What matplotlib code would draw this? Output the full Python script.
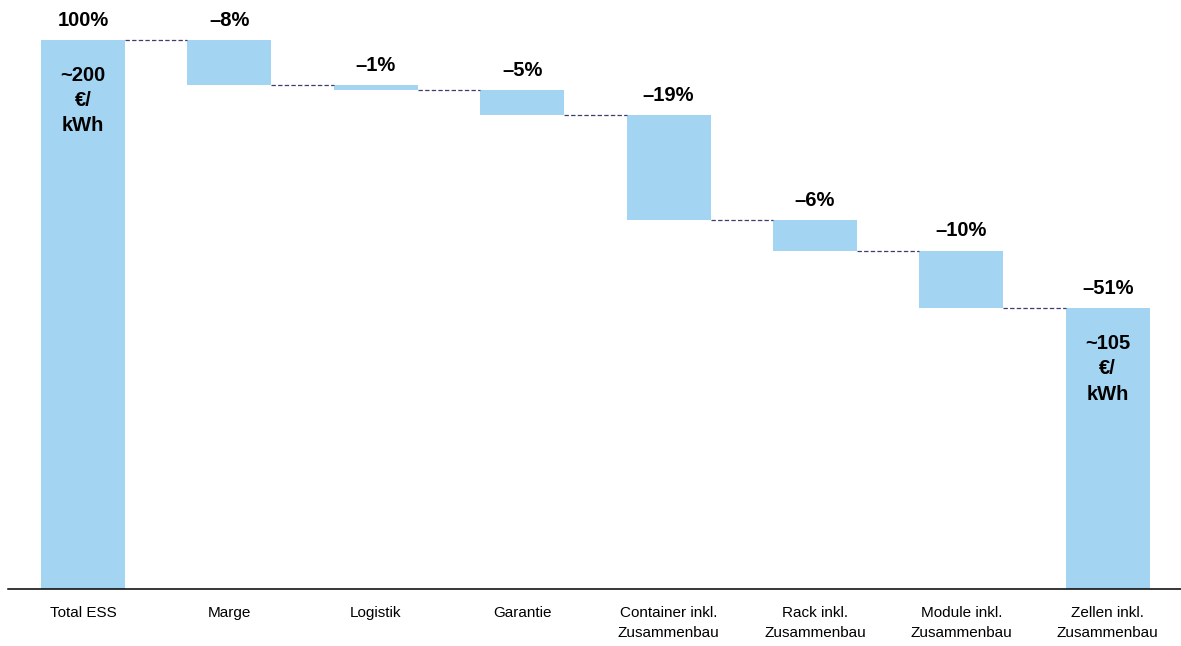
import matplotlib.pyplot as plt

categories = ['Total ESS', 'Marge', 'Logistik', 'Garantie',
              'Container inkl.\nZusammenbau', 'Rack inkl.\nZusammenbau',
              'Module inkl.\nZusammenbau', 'Zellen inkl.\nZusammenbau']
# 100 = total, negative = Abzug, last = remaining total
values = [100, -8.2, -0.9, -4.6, -19.1, -5.6, -10.5, 51.1]
labels = ['100%', '–8%', '–1%', '–5%', '–19%', '–6%', '–10%', '–51%']
inner = {0: '~200\n€/\nkWh', 7: '~105\n€/\nkWh'}

plt.rcParams['font.family'] = ['Liberation Sans', 'DejaVu Sans']

fig = plt.figure(figsize=(11.81, 6.46), dpi=100)
ax = fig.add_axes([8 / 1181, 57 / 646, 1 - 8 / 1181, 589 / 646])

bar_color = '#a3d5f3'
w = 0.574

bottoms, tops = [], []
level = 0
for i, v in enumerate(values):
    if i == 0 or i == len(values) - 1:
        bottoms.append(0)
        tops.append(v)
        level = v
    else:
        bottoms.append(level + v)
        tops.append(level)
        level = level + v

x = list(range(len(values)))
ax.bar(x, [t - b for t, b in zip(tops, bottoms)], bottom=bottoms,
       width=w, color=bar_color, linewidth=0)

# dashed connectors
for i in range(len(values) - 1):
    y = bottoms[i] if 0 < i else tops[i]
    ax.plot([i + w / 2, i + 1 - w / 2], [y, y], color='#3d3d6e',
            linewidth=0.9, dashes=(3.5, 1.8))

for i, lab in enumerate(labels):
    ax.annotate(lab, (i, tops[i]), xytext=(0, 7.5), textcoords='offset points',
                ha='center', va='bottom', fontsize=14.5, fontweight='bold')

for i, txt in inner.items():
    ax.annotate(txt, (i, tops[i]), xytext=(0, -18.5), textcoords='offset points',
                ha='center', va='top', fontsize=14.5, fontweight='bold',
                linespacing=1.42)

ax.set_xlim(-0.512, 7.5)
ax.set_ylim(0, 107.3)
ax.set_xticks(x)
ax.set_xticklabels(categories, fontsize=11, linespacing=1.6)
ax.tick_params(axis='x', length=0, pad=12)
ax.set_yticks([])
for s in ['top', 'right', 'left']:
    ax.spines[s].set_visible(False)
ax.spines['bottom'].set_linewidth(1.1)

fig.savefig('out.png', dpi=100)
